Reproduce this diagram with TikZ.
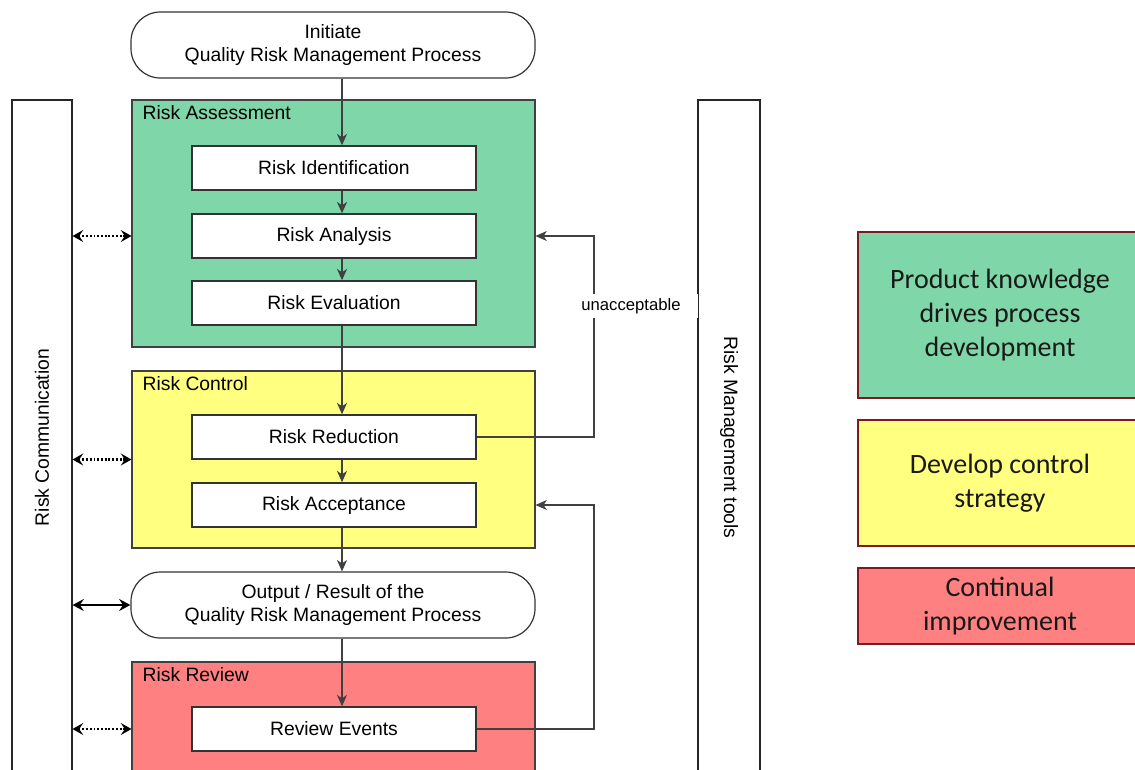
\documentclass[tikz,border=0pt]{standalone}
\usepackage{fontspec}
\setmainfont{Liberation Sans}
\newfontfamily\legendfont{Carlito}
\usepackage{tikz}
\usetikzlibrary{arrows.meta}

\definecolor{assessgreen}{RGB}{127,214,168}
\definecolor{controlyellow}{RGB}{255,255,128}
\definecolor{reviewred}{RGB}{255,128,128}
\definecolor{legendedge}{RGB}{125,25,35}

\begin{document}
\begin{tikzpicture}[x=0.75pt,y=0.75pt,yscale=-1,xscale=1,
  every node/.style={font=\fontsize{14.5}{17.25}\selectfont},
  stage/.style={draw=black!75,line width=0.8pt,minimum width=302.25pt,inner sep=0pt},
  stepbox/.style={draw=black!80,line width=1.1pt,fill=white,minimum width=213pt,minimum height=33pt,inner sep=0pt},
  terminal/.style={draw=black!80,line width=0.9pt,fill=white,rounded corners=22pt,minimum width=303pt,minimum height=49.5pt,align=center,inner sep=0pt},
  sidebar/.style={draw=black!85,line width=0.8pt,fill=white,minimum width=506.25pt,inner sep=0pt},
  grouplabel/.style={anchor=north west,inner sep=1pt},
  legend/.style={draw=legendedge,line width=1.3pt,minimum width=213pt,align=center,text=black!90,font=\legendfont\fontsize{21}{25.5}\selectfont},
  flow/.style={draw=black!75,line width=0.8pt,-{Stealth[length=8.5pt,width=7.5pt,inset=2.5pt]}},
  talk/.style={line width=1.8pt,dash pattern=on 1.4pt off 1.4pt,{Stealth[length=8pt,width=9pt,inset=3pt]}-{Stealth[length=8pt,width=9pt,inset=3pt]}},
  talksolid/.style={line width=1.1pt,{Stealth[length=8.5pt,width=9pt,inset=3pt]}-{Stealth[length=8.5pt,width=9pt,inset=3pt]}}]
\useasboundingbox (0,0) rectangle (1135,769);
\clip (0,0) rectangle (1135,769);

%Shape: Side bars
\node (rcomm) [sidebar,minimum height=45pt,rotate=90] at (42,437.5) {Risk Communication};
\node (rtools) [sidebar,minimum height=46.5pt,rotate=-90] at (729,437.5) {Risk Management tools};

%Shape: Stage rectangles
\node (assess) [stage,fill=assessgreen,minimum height=185.25pt] at (333.5,223.5) {};
\node (control) [stage,fill=controlyellow,minimum height=132.75pt] at (333.5,459.5) {};
\node (revw) [stage,fill=reviewred,minimum height=96pt] at (333.5,726) {};

% Text Node
\node (assesslbl) [grouplabel] at (141,104) {Risk Assessment};
% Text Node
\node (controllbl) [grouplabel] at (141,375) {Risk Control};
% Text Node
\node (revwlbl) [grouplabel] at (141,666) {Risk Review};

%Shape: Terminals
\node (init) [terminal] at (333,45) {Initiate\\Quality Risk Management Process};
\node (output) [terminal] at (333,605) {Output / Result of the\\Quality Risk Management Process};

%Shape: Steps
\node (ident) [stepbox] at (334,168) {Risk Identification};
\node (analysis) [stepbox] at (334,236) {Risk Analysis};
\node (evaluation) [stepbox] at (334,303) {Risk Evaluation};
\node (reduction) [stepbox] at (334,437) {Risk Reduction};
\node (acceptance) [stepbox] at (334,505) {Risk Acceptance};
\node (revents) [stepbox] at (334,729) {Review Events};

\coordinate (spine) at (342,0);
\coordinate (loop) at (594,0);

%Straight Lines: main flow
\draw [flow] (init.south -| spine) -- (ident.north -| spine);
\draw [flow] (ident.south -| spine) -- (analysis.north -| spine);
\draw [flow] (analysis.south -| spine) -- (evaluation.north -| spine);
\draw [flow] (evaluation.south -| spine) -- (reduction.north -| spine);
\draw [flow] (reduction.south -| spine) -- (acceptance.north -| spine);
\draw [flow] (acceptance.south -| spine) -- (output.north -| spine);
\draw [flow] (output.south -| spine) -- (revents.north -| spine);

%Straight Lines: feedback
\draw [flow] (reduction.east) -- (reduction.east -| loop) -- (analysis -| loop) -- (assess.east |- analysis);
\draw [flow] (revents.east) -- (revents.east -| loop) -- (acceptance -| loop) -- (control.east |- acceptance);

% Text Node
\node (unacc) [fill=white,minimum width=100pt,minimum height=18pt,inner sep=0pt,font=\fontsize{12.5}{15}\selectfont] at (631,306) {unacceptable};

%Straight Lines: communication
\draw [talk] (rcomm.south |- analysis) -- (assess.west |- analysis);
\draw [talk] (rcomm.south |- control) -- (control.west);
\draw [talksolid] (rcomm.south |- output) -- (output.west);
\draw [talk] (rcomm.south |- revents) -- (revw.west |- revents);

%Shape: Legend
\node (legA) [legend,fill=assessgreen,minimum height=124.5pt] at (1000,315) {Product knowledge\\drives process\\development};
\node (legB) [legend,fill=controlyellow,minimum height=94.5pt] at (1000,483) {Develop control\\strategy};
\node (legC) [legend,fill=reviewred,minimum height=57pt] at (1000,606) {Continual\\improvement};

\end{tikzpicture}
\end{document}
